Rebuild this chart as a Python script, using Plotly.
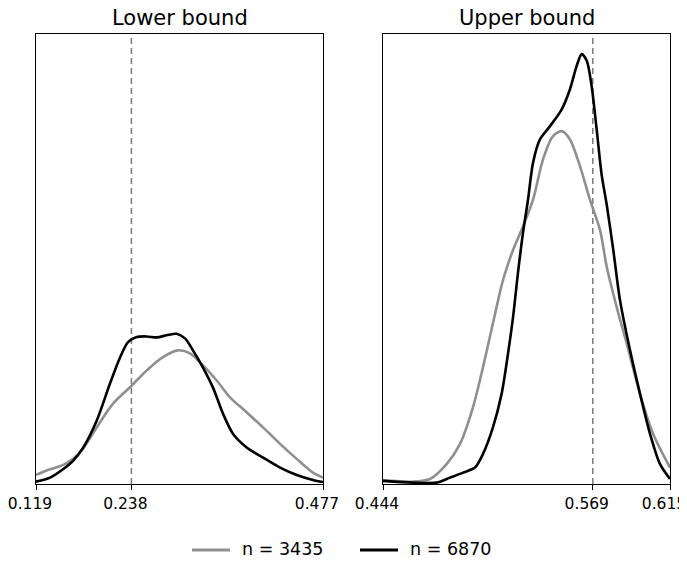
import plotly.graph_objects as go

# ---- data ----
lower_black_x = [0.119, 0.1365, 0.1531, 0.1652, 0.1776, 0.1947, 0.2113, 0.2238, 0.2338, 0.2446,
                 0.2571, 0.2696, 0.2820, 0.2945, 0.3049, 0.3148, 0.3273, 0.3398, 0.3523, 0.3647,
                 0.3818, 0.4022, 0.4234, 0.4442, 0.4645, 0.477]
lower_black_y = [0.12, 0.33, 0.78, 1.20, 1.87, 3.28, 5.20, 6.55, 7.35, 7.61,
                 7.64, 7.59, 7.70, 7.78, 7.54, 6.92, 6.03, 4.99, 3.64, 2.60,
                 1.89, 1.37, 0.85, 0.47, 0.21, 0.10]

lower_gray_x = [0.119, 0.1365, 0.1531, 0.1652, 0.1776, 0.1947, 0.2151, 0.2363, 0.2571, 0.2774,
                0.2961, 0.3111, 0.3273, 0.3444, 0.3610, 0.3818, 0.4022, 0.4234, 0.4442, 0.4645,
                0.477]
lower_gray_y = [0.47, 0.76, 0.99, 1.30, 1.82, 2.93, 4.16, 5.01, 5.88, 6.57,
                6.92, 6.76, 6.14, 5.36, 4.49, 3.71, 2.93, 2.08, 1.30, 0.59,
                0.33]

upper_black_x = [0.444, 0.4619, 0.4760, 0.4839, 0.4917, 0.4988, 0.5036, 0.5095, 0.5147, 0.5185,
                 0.5215, 0.5244, 0.5274, 0.5304, 0.5334, 0.5375, 0.5435, 0.5505, 0.5554, 0.5594,
                 0.5624, 0.5654, 0.5683, 0.5713, 0.5743, 0.5773, 0.5812, 0.5852, 0.5912, 0.5971,
                 0.6031, 0.6090, 0.615]
upper_black_y = [0.16, 0.07, 0.07, 0.33, 0.59, 0.85, 1.56, 2.93, 4.68, 6.76,
                 8.65, 10.92, 13.0, 14.72, 16.64, 17.84, 18.53, 19.40, 20.44, 21.65,
                 22.26, 21.91, 20.61, 18.36, 16.0, 14.46, 12.12, 9.52, 6.92, 4.68,
                 2.60, 1.04, 0.26]

upper_gray_x = [0.444, 0.4619, 0.4720, 0.4820, 0.4899, 0.4976, 0.5036, 0.5095, 0.5155, 0.5215,
                0.5274, 0.5334, 0.5393, 0.5453, 0.5505, 0.5554, 0.5614, 0.5673, 0.5733, 0.5773,
                0.5832, 0.5892, 0.5971, 0.6049, 0.615]
upper_gray_y = [0.19, 0.12, 0.26, 1.04, 2.08, 3.97, 6.05, 8.32, 10.56, 12.12,
                13.33, 14.72, 16.80, 18.01, 18.27, 17.84, 16.45, 14.72, 13.16, 11.25,
                9.17, 7.28, 4.68, 2.60, 0.85]

lower_ticks = [0.119, 0.238, 0.477]
upper_ticks = [0.444, 0.569, 0.615]
lower_ref = 0.238
upper_ref = 0.569
series_names = ["n = 3435", "n = 6870"]
panel_titles = ["Lower bound", "Upper bound"]
y_max = 23.3

# ---- figure ----
GRAY = "#8f8f8f"
BLACK = "#000000"
COLORS = [GRAY, BLACK]
WIN_W, WIN_H = 687, 561
OFF = 8                      # default page margin around the plot div
W, H = WIN_W - OFF, WIN_H - OFF
FONT = "DejaVu Sans"
LW = 2.6


def px(x):  # window x pixel -> paper fraction
    return (x - OFF) / W


def py(y):  # window y pixel -> paper fraction
    return 1 - (y - OFF) / H


fig = go.Figure()

panels = [
    ("x", "y", [(lower_gray_x, lower_gray_y), (lower_black_x, lower_black_y)]),
    ("x2", "y2", [(upper_gray_x, upper_gray_y), (upper_black_x, upper_black_y)]),
]
for xa, ya, series in panels:
    for (sx, sy), col, nm in zip(series, COLORS, series_names):
        fig.add_trace(go.Scatter(x=sx, y=sy, mode="lines", name=nm, showlegend=False,
                                 line=dict(color=col, width=LW, shape="spline", smoothing=0.8),
                                 xaxis=xa, yaxis=ya))

# dashed reference lines
fig.add_shape(type="line", xref="x", yref="y domain", x0=lower_ref, x1=lower_ref, y0=0, y1=1,
              line=dict(color="#7a7a7a", width=1.5, dash="6px,4px"), layer="below")
fig.add_shape(type="line", xref="x2", yref="y2 domain", x0=upper_ref, x1=upper_ref, y0=0, y1=1,
              line=dict(color="#7a7a7a", width=1.5, dash="6px,4px"), layer="below")

# legend (drawn below the panels)
legend_items = [(192, 230, 240), (360, 398, 408)]
for (lx0, lx1, tx), col, nm in zip(legend_items, COLORS, series_names):
    fig.add_shape(type="line", xref="paper", yref="paper", x0=px(lx0), x1=px(lx1),
                  y0=py(550), y1=py(550), line=dict(color=col, width=3))
    fig.add_annotation(text=nm, x=px(tx), y=py(549), xref="paper", yref="paper",
                       showarrow=False, xanchor="left", yanchor="middle",
                       font=dict(size=17.5, family=FONT, color="black"))

TOP, BOT = 34, 484
y_dom = [py(BOT), py(TOP)]
axis_common = dict(showline=True, linecolor="black", linewidth=1.3, mirror=True, showgrid=False,
                   zeroline=False, automargin=False)
xtick_common = dict(ticks="outside", ticklen=5, tickwidth=1.2, tickcolor="black",
                    tickfont=dict(size=15.5, family=FONT, color="black"), ticklabelshift=-6,
                    ticklabeloverflow="allow")

fig.update_layout(
    width=W, height=H,
    margin=dict(l=0, r=0, t=0, b=0, pad=0),
    paper_bgcolor="white", plot_bgcolor="white",
    font=dict(family=FONT, color="black"),
    showlegend=False,
    xaxis=dict(domain=[px(36), px(323)], range=[lower_ticks[0], lower_ticks[-1]], tickvals=lower_ticks,
               ticktext=[f"{v:.3f}" for v in lower_ticks], anchor="y", **xtick_common, **axis_common),
    yaxis=dict(domain=y_dom, range=[0, y_max], showticklabels=False, ticks="", anchor="x", **axis_common),
    xaxis2=dict(domain=[px(383), px(670)], range=[upper_ticks[0], upper_ticks[-1]], tickvals=upper_ticks,
                ticktext=[f"{v:.3f}" for v in upper_ticks], anchor="y2", **xtick_common, **axis_common),
    yaxis2=dict(domain=y_dom, range=[0, y_max], showticklabels=False, ticks="", anchor="x2", **axis_common),
)
for t, (x0, x1) in zip(panel_titles, [(36, 323), (383, 670)]):
    fig.add_annotation(text=t, x=px((x0 + x1) / 2), y=py(18), xref="paper", yref="paper",
                       showarrow=False, xanchor="center", yanchor="middle",
                       font=dict(size=21, family=FONT, color="black"))

fig.write_html("out.html")
